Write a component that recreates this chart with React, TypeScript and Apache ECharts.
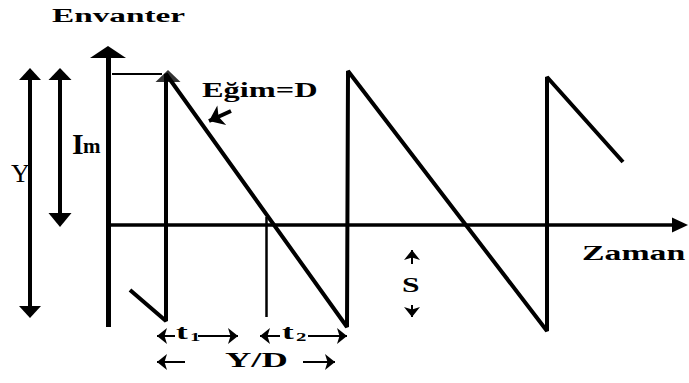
import React, { useEffect, useRef } from "react";
import * as echarts from "echarts";

// Inventory cycle: time (x) and inventory level (y), axis at level 0.
const cycleTime = [22, 58, 58, 239, 240, 439, 439, 515];
const cycleLevel = [-65, -96, 151, -102, 154, -106, 148, 63];
const peakMarker = [60, 149];
const maxInventory = 151; // I_m
const orderTop = 151; // top of Y
const orderBottom = -87; // bottom of Y
const stockoutTime = 158; // boundary of t1 and t2
const stockoutBottom = -92;
const levelAxisRange = [-102, 173];
const timeAxisEnd = 572;
// Dimension arrows: [tailTime, tipTime]
const t1Arrows = [[67, 49], [90, 130]];
const t2Arrows = [[172, 152], [200, 239]];
const cycleArrows = [[77, 49], [195, 227]];
const dimRowLevels = [-111, -137];
const shortageArrows = [[-39, -25], [-80, -92]]; // [tail, tip] levels
const shortageTime = 304;
const slopePointer = [[123, 114], [101, 104]];

const SERIF = '"Liberation Serif", "Times New Roman", serif';

export default function App() {
  const ref = useRef<HTMLDivElement>(null);
  useEffect(() => {
    if (!ref.current) return;
    const chart = echarts.init(ref.current, undefined, { renderer: "svg" });
    const K = "#000";
    const seg = (
      from: number[],
      to: number[],
      width: number,
      fromSym?: [string, number[]],
      toSym?: [string, number[]]
    ) => [
      {
        coord: from,
        symbol: fromSym ? fromSym[0] : "none",
        ...(fromSym ? { symbolSize: fromSym[1] } : {}),
        lineStyle: { width, color: K, type: "solid" },
      },
      {
        coord: to,
        symbol: toSym ? toSym[0] : "none",
        ...(toSym ? { symbolSize: toSym[1] } : {}),
      },
    ];
    const arrowHead: [string, number[]] = ["arrow", [12, 10]];
    const lines: any[] = [
      seg([0, levelAxisRange[0]], [0, levelAxisRange[1]], 5, undefined, ["triangle", [36, 12]]),
      seg([0, 0], [timeAxisEnd, 0], 3.5, undefined, ["triangle", [15, 16]]),
      seg([-78, orderBottom], [-78, orderTop], 4, ["triangle", [22, 12]], ["triangle", [22, 12]]),
      seg([-48, 5], [-48, maxInventory], 4, ["triangle", [23, 14]], ["triangle", [23, 12]]),
      seg([4, maxInventory], [54, maxInventory], 2),
      seg([stockoutTime, 8], [stockoutTime, stockoutBottom], 2.5),
      seg(slopePointer[0], slopePointer[1], 4, undefined, ["arrow", [16, 14]]),
    ];
    [t1Arrows, t2Arrows].forEach((arr) =>
      arr.forEach(([a, b]) => lines.push(seg([a, dimRowLevels[0]], [b, dimRowLevels[0]], 2, undefined, arrowHead)))
    );
    cycleArrows.forEach(([a, b]) =>
      lines.push(seg([a, dimRowLevels[1]], [b, dimRowLevels[1]], 2, undefined, arrowHead))
    );
    shortageArrows.forEach(([a, b]) =>
      lines.push(seg([shortageTime, a], [shortageTime, b], 2, undefined, ["arrow", [12, 10]]))
    );

    const txt = (
      text: string,
      x: number,
      y: number,
      size: number,
      scaleX: number,
      weight: string = "bold"
    ) => ({
      type: "text",
      x,
      y,
      scaleX,
      silent: true,
      style: {
        text,
        fill: K,
        fontFamily: SERIF,
        fontSize: size,
        fontWeight: weight,
        align: "left",
        verticalAlign: "middle",
      },
    });

    chart.setOption({
      animation: false,
      backgroundColor: "#fff",
      grid: { left: 0, right: 0, top: 0, bottom: 0 },
      xAxis: { type: "value", min: -108, max: 581, show: false },
      yAxis: { type: "value", min: -158, max: 225, show: false },
      graphic: [
        txt("Envanter", 52, 16, 18, 1.85),
        txt("Eğim=D", 202, 90.5, 20, 1.62),
        txt("Zaman", 582, 253.5, 20, 1.69),
        txt("I", 72, 143, 30, 1),
        txt("m", 83, 146, 21, 1),
        txt("Y", 11, 173, 26, 1, "normal"),
        txt("t", 176, 332, 22, 1.6),
        txt("1", 190, 337, 13, 1.6),
        txt("t", 282, 332, 22, 1.6),
        txt("2", 296, 337, 13, 1.6),
        txt("Y/D", 225, 359.6, 22, 1.66),
        txt("S", 402, 285, 21, 1.5),
      ],
      series: [
        {
          type: "line",
          data: cycleTime.map((t, i) => [t, cycleLevel[i]]),
          showSymbol: false,
          symbol: "none",
          silent: true,
          clip: false,
          lineStyle: { color: K, width: 4, join: "bevel" },
          markLine: {
            silent: true,
            animation: false,
            symbol: ["none", "none"],
            label: { show: false },
            emphasis: { disabled: true },
            lineStyle: { color: K, type: "solid" },
            data: lines,
          },
        },
        {
          type: "scatter",
          data: [peakMarker],
          symbol: "triangle",
          symbolSize: [25, 12],
          silent: true,
          itemStyle: { color: K },
        },
      ],
    });
    return () => chart.dispose();
  }, []);
  return (
    <div
      ref={ref}
      style={{ position: "fixed", left: 0, top: 0, width: 689, height: 383, background: "#fff" }}
    />
  );
}
